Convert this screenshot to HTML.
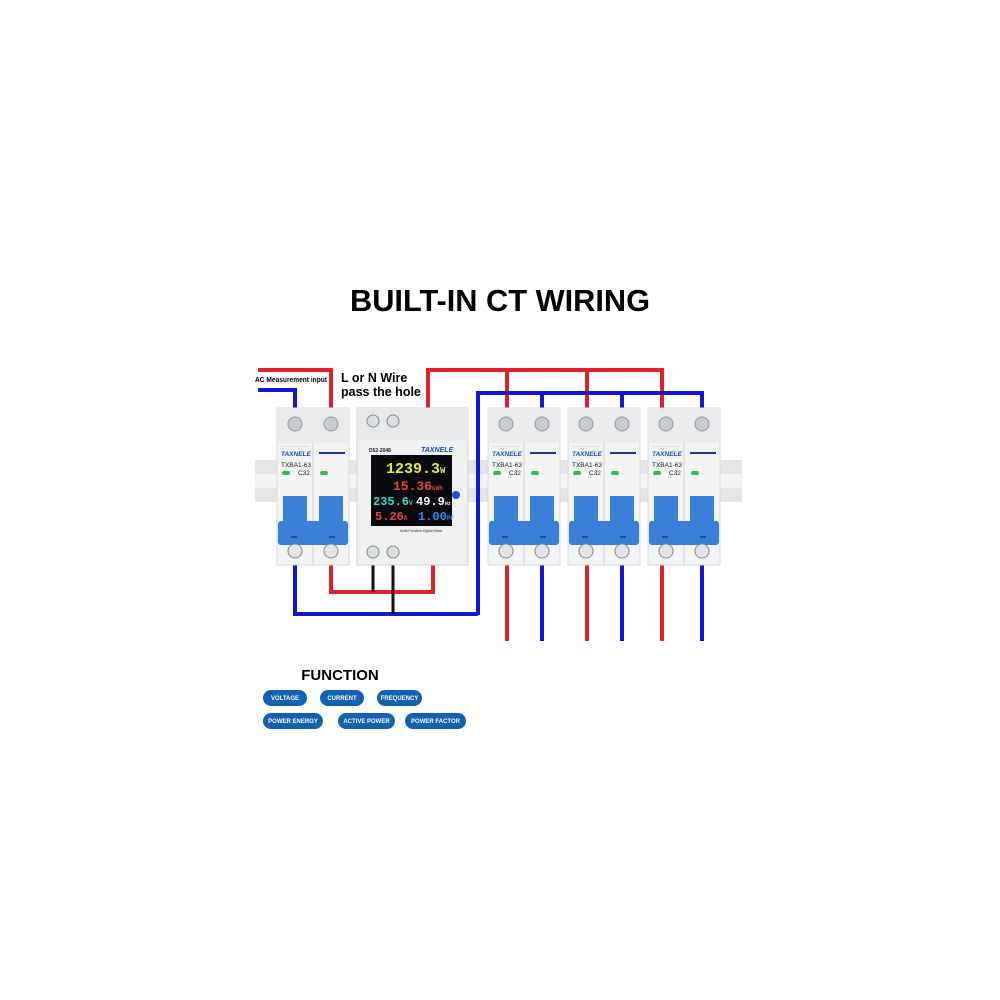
<!DOCTYPE html>
<html><head><meta charset="utf-8"><style>
html,body{margin:0;padding:0;background:#fff;}
svg{display:block;}
</style></head><body>
<svg width="1000" height="1000" viewBox="0 0 1000 1000" xmlns="http://www.w3.org/2000/svg" font-family="Liberation Sans, sans-serif">
<defs>
 <g id="brk">
  <rect x="0" y="0" width="72" height="157" fill="#f2f3f5" stroke="#d8dadd" stroke-width="1"/>
  <line x1="36" y1="0" x2="36" y2="157" stroke="#cfd2d6"/>
  <rect x="0" y="0" width="72" height="35" fill="#e9eaec"/>
  <circle cx="18" cy="16" r="7" fill="#c9ccd0" stroke="#999" />
  <circle cx="54" cy="16" r="7" fill="#c9ccd0" stroke="#999" />
  <rect x="4" y="38" width="28" height="1" fill="#ddd"/>
  <rect x="42" y="44" width="26" height="2" fill="#1b3a8f"/>
  <rect x="5" y="63" width="8" height="4" rx="2" fill="#2fbf4f"/>
  <rect x="43" y="63" width="8" height="4" rx="2" fill="#2fbf4f"/>
  <rect x="6" y="88" width="24" height="30" fill="#3a7fd8"/>
  <rect x="42" y="88" width="24" height="30" fill="#3a7fd8"/>
  <rect x="1" y="113" width="70" height="24" rx="3" fill="#3a7fd8"/>
  <rect x="14" y="128" width="6" height="2" fill="#1d4f9e"/>
  <rect x="52" y="128" width="6" height="2" fill="#1d4f9e"/>
  <circle cx="18" cy="143" r="7" fill="#e2e4e7" stroke="#888"/>
  <circle cx="54" cy="143" r="7" fill="#e2e4e7" stroke="#888"/>
 </g>
</defs>
<text x="500" y="311" text-anchor="middle" font-size="31" font-weight="bold" textLength="300" lengthAdjust="spacingAndGlyphs">BUILT-IN CT WIRING</text>

<rect x="255" y="460" width="487" height="42" fill="#e4e5e7"/>
<rect x="255" y="474" width="487" height="14" fill="#f4f4f4"/>

<g fill="none" stroke-width="4">
 <polyline points="258,370 331,370 331,410" stroke="#e0202a"/>
 <polyline points="258,390 295,390 295,410" stroke="#1515d8"/>
 <polyline points="428,408 428,370 662,370 662,408" stroke="#e0202a"/>
 <line x1="507" y1="370" x2="507" y2="408" stroke="#e0202a"/>
 <line x1="587" y1="370" x2="587" y2="408" stroke="#e0202a"/>
 <polyline points="478,615 478,393 702,393 702,408" stroke="#1515d8"/>
 <line x1="542" y1="393" x2="542" y2="408" stroke="#1515d8"/>
 <line x1="622" y1="393" x2="622" y2="408" stroke="#1515d8"/>
 <polyline points="331,562 331,592 433,592 433,562" stroke="#e0202a"/>
 <polyline points="295,562 295,614 478,614" stroke="#1515d8"/>
 <line x1="373" y1="562" x2="373" y2="592" stroke="#111" stroke-width="3"/>
 <line x1="393" y1="562" x2="393" y2="614" stroke="#111" stroke-width="3"/>
 <line x1="507" y1="562" x2="507" y2="641" stroke="#e0202a"/>
 <line x1="587" y1="562" x2="587" y2="641" stroke="#e0202a"/>
 <line x1="662" y1="562" x2="662" y2="641" stroke="#e0202a"/>
 <line x1="542" y1="562" x2="542" y2="641" stroke="#1515d8"/>
 <line x1="622" y1="562" x2="622" y2="641" stroke="#1515d8"/>
 <line x1="702" y1="562" x2="702" y2="641" stroke="#1515d8"/>
</g>

<text x="255" y="382" font-size="7" font-weight="bold" textLength="72" lengthAdjust="spacingAndGlyphs">AC Measurement input</text>
<text x="341" y="382" font-size="12.5" font-weight="bold">L or N Wire</text>
<text x="341" y="396" font-size="12.5" font-weight="bold">pass the hole</text>

<use href="#brk" x="277" y="408"/>
<use href="#brk" x="488" y="408"/>
<use href="#brk" x="568" y="408"/>
<use href="#brk" x="648" y="408"/>
<g font-size="6.5" font-weight="bold" font-style="italic" fill="#1b4fae">
 <text x="281" y="456">TAXNELE</text><text x="492" y="456">TAXNELE</text><text x="572" y="456">TAXNELE</text><text x="652" y="456">TAXNELE</text>
</g>
<g font-size="6.5" fill="#222">
 <text x="281" y="467">TXBA1-63</text><text x="492" y="467">TXBA1-63</text><text x="572" y="467">TXBA1-63</text><text x="652" y="467">TXBA1-63</text>
 <text x="298" y="475">C32</text><text x="509" y="475">C32</text><text x="589" y="475">C32</text><text x="669" y="475">C32</text>
</g>

<rect x="357" y="408" width="111" height="157" fill="#eef0f2" stroke="#d0d3d6"/>
<rect x="357" y="408" width="111" height="32" fill="#e6e8ea"/>
<circle cx="373" cy="421" r="6" fill="#dcdfe2" stroke="#888"/>
<circle cx="393" cy="421" r="6" fill="#dcdfe2" stroke="#888"/>
<circle cx="373" cy="552" r="6" fill="#dcdfe2" stroke="#888"/>
<circle cx="393" cy="552" r="6" fill="#dcdfe2" stroke="#888"/>
<text x="369" y="452" font-size="5" font-weight="bold" fill="#222">D52-2048</text>
<text x="421" y="452" font-size="7" font-weight="bold" font-style="italic" fill="#1b4fae">TAXNELE</text>
<rect x="371" y="455" width="81" height="71" fill="#0a0a0e"/>
<g font-family="Liberation Mono, monospace" font-weight="bold">
 <text x="386" y="473" font-size="15" fill="#e8e83a">1239.3<tspan font-size="9">W</tspan></text>
 <text x="393" y="490" font-size="13" fill="#e8443a">15.36<tspan font-size="6">kWh</tspan></text>
 <text x="373" y="505" font-size="12" fill="#3ad8c8">235.6<tspan font-size="6">V</tspan></text>
 <text x="416" y="505" font-size="12" fill="#ffffff">49.9<tspan font-size="5">Hz</tspan></text>
 <text x="375" y="520" font-size="12" fill="#e8443a">5.26<tspan font-size="6">A</tspan></text>
 <text x="418" y="520" font-size="12" fill="#2a8ef0">1.00<tspan font-size="6">PF</tspan></text>
</g>
<text x="400" y="532" font-size="3.5" fill="#333">Multi-Function Digital Meter</text>
<circle cx="456" cy="495" r="4" fill="#1a4fd0"/>

<text x="340" y="680" text-anchor="middle" font-size="15" font-weight="bold">FUNCTION</text>
<g fill="#1261b3">
 <rect x="263" y="690" width="44" height="16" rx="8"/>
 <rect x="320" y="690" width="44" height="16" rx="8"/>
 <rect x="377" y="690" width="45" height="16" rx="8"/>
 <rect x="263" y="713" width="60" height="16" rx="8"/>
 <rect x="338" y="713" width="57" height="16" rx="8"/>
 <rect x="405" y="713" width="61" height="16" rx="8"/>
</g>
<g fill="#fff" font-size="6" font-weight="bold" text-anchor="middle">
 <text x="285" y="700">VOLTAGE</text>
 <text x="342" y="700">CURRENT</text>
 <text x="399.5" y="700">FREQUENCY</text>
 <text x="293" y="723">POWER ENERGY</text>
 <text x="366.5" y="723">ACTIVE POWER</text>
 <text x="435.5" y="723">POWER FACTOR</text>
</g>
</svg>
</body></html>
